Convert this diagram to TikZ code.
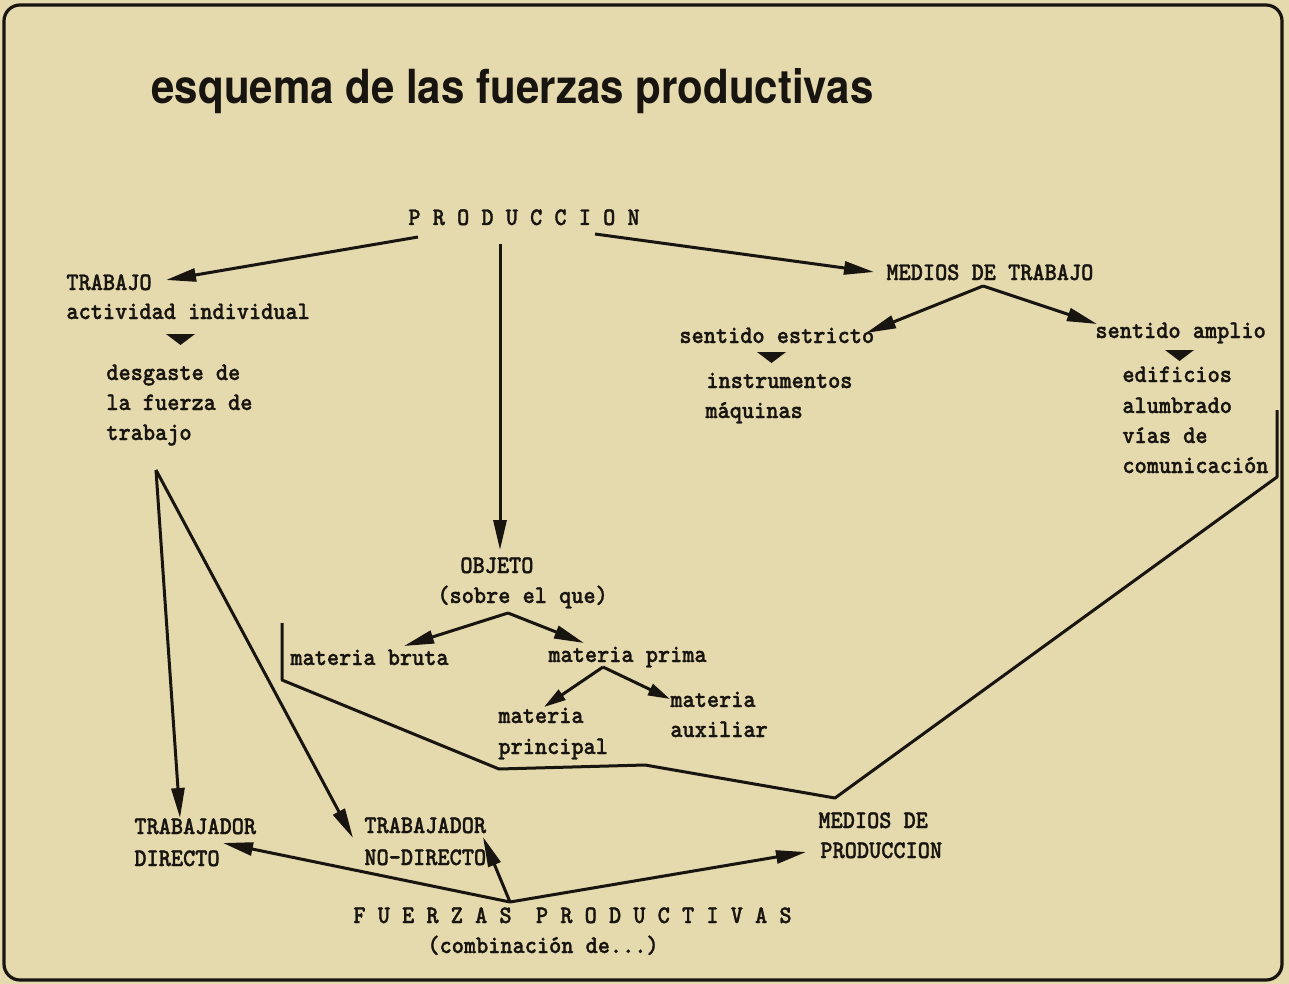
\documentclass[tikz,border=0pt]{standalone}
\usepackage{fontspec}
\usetikzlibrary{arrows.meta}
\newfontfamily\titlefont{TeX Gyre Heros}
\newfontfamily\twfont{lmmonolt10-bold.otf}[FakeBold=1.2, FakeStretch=0.92]
\definecolor{paper}{RGB}{229,217,174}
\definecolor{ink}{RGB}{24,20,16}
\tikzset{
  tw/.style={font=\twfont\fontsize{12.6pt}{15pt}\selectfont, inner sep=0pt, anchor=base west, text=ink},
  conn/.style={draw=ink, line width=1.5pt, line join=round},
  arr/.style={conn, -{Triangle[length=15pt,width=6.5pt]}},
  sarr/.style={conn, -{Triangle[length=11pt,width=6pt]}},
  tri/.style={fill=ink}
}
\begin{document}
\begin{tikzpicture}[x=0.5pt,y=-0.5pt]
\useasboundingbox (0,0) rectangle (1289,984);
\fill[paper] (0,0) rectangle (1289,984);
\draw[ink, line width=1.6pt, rounded corners=8pt] (4,5) rectangle (1282,980);

% title
\node[inner sep=0pt, anchor=base west, text=ink] (title) at (151,104)
  {\resizebox{361pt}{\height}{\titlefont\fontsize{23.5pt}{27pt}\selectfont\bfseries esquema de las fuerzas productivas}};

% texts
\node[tw] (prod) at (408,225) {P~R~O~D~U~C~C~I~O~N};
\node[tw] (trab) at (66,290) {TRABAJO};
\node[tw] (activ) at (66,319) {actividad individual};
\node[tw] (desg1) at (106,380) {desgaste de};
\node[tw] (desg2) at (106,410) {la fuerza de};
\node[tw] (desg3) at (106,440) {trabajo};
\node[tw] (mdt) at (886,280) {MEDIOS DE TRABAJO};
\node[tw] (sest) at (679,343) {sentido estricto};
\node[tw] (instr) at (706,388) {instrumentos};
\node[tw] (maq) at (705,418) {máquinas};
\node[tw] (samp) at (1095,338) {sentido amplio};
\node[tw] (edif) at (1122,382) {edificios};
\node[tw] (alum) at (1122,413) {alumbrado};
\node[tw] (vias) at (1122,443) {vías de};
\node[tw] (comu) at (1122,473) {comunicación};
\node[tw] (obj) at (460,573) {OBJETO};
\node[tw] (sobre) at (437,603) {(sobre el que)};
\node[tw] (mbruta) at (290,665) {materia bruta};
\node[tw] (mprima) at (548,662) {materia prima};
\node[tw] (mprinc1) at (498,723) {materia};
\node[tw] (mprinc2) at (498,754) {principal};
\node[tw] (maux1) at (670,707) {materia};
\node[tw] (maux2) at (670,737) {auxiliar};
\node[tw] (tdir1) at (134,834) {TRABAJADOR};
\node[tw] (tdir2) at (134,866) {DIRECTO};
\node[tw] (tnd1) at (364,833) {TRABAJADOR};
\node[tw] (tnd2) at (364,865) {NO-DIRECTO};
\node[tw] (mdp1) at (818,828) {MEDIOS DE};
\node[tw] (mdp2) at (820,858) {PRODUCCION};
\node[tw] (fp) at (353,923) {F~U~E~R~Z~A~S~~P~R~O~D~U~C~T~I~V~A~S};
\node[tw] (comb) at (427,953) {(combinación de...)};

% connection points
\coordinate (prodL) at (418,237);
\coordinate (prodM) at (500,244);
\coordinate (prodR) at (595,234);
\coordinate (trabT) at (166,280);
\coordinate (objT) at (500,550);
\coordinate (mdtT) at (874,272);
\coordinate (mdtP) at (983,286);
\coordinate (sestT) at (866,333);
\coordinate (sampT) at (1097,324);
\coordinate (objP) at (508,613);
\coordinate (mbrT) at (404,646);
\coordinate (mprT) at (584,643);
\coordinate (mprP) at (603,667);
\coordinate (mpcT) at (544,707);
\coordinate (mauT) at (670,699);
\coordinate (desgP) at (156,470);
\coordinate (tdirT) at (180,818);
\coordinate (tndT) at (353,838);
\coordinate (fpP) at (510,902);
\coordinate (tdirT2) at (223,843);
\coordinate (tndT2) at (483,837);
\coordinate (mdpT) at (806,852);

\draw[arr] (prodL) -- (trabT);
\draw[arr] (prodM) -- (objT);
\draw[arr] (prodR) -- (mdtT);
\draw[arr] (mdtP) -- (sestT);
\draw[arr] (mdtP) -- (sampT);
\draw[arr] (objP) -- (mbrT);
\draw[arr] (objP) -- (mprT);
\draw[sarr] (mprP) -- (mpcT);
\draw[sarr] (mprP) -- (mauT);
\draw[arr] (desgP) -- (tdirT);
\draw[arr] (desgP) -- (tndT);
\draw[arr] (fpP) -- (tdirT2);
\draw[arr] (fpP) -- (tndT2);
\draw[arr] (fpP) -- (mdpT);

% bracket of the means of production
\draw[conn] (282,623) -- (282,680) -- (499,769) -- (645,765) -- (835,798) -- (1277,477) -- (1277,410);

% small down triangles
\fill[tri] (166,334) -- (195,334) -- (180.5,345) -- cycle;
\fill[tri] (757,352) -- (786,352) -- (771.5,363) -- cycle;
\fill[tri] (1165,350) -- (1194,350) -- (1179.5,361) -- cycle;
\end{tikzpicture}
\end{document}
